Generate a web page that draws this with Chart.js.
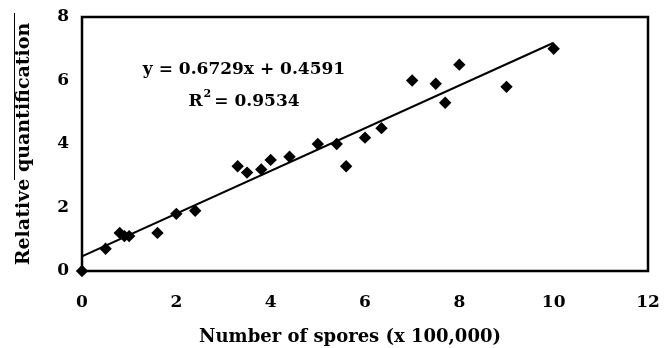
<!DOCTYPE html>
<html>
<head>
<meta charset="utf-8">
<script src="https://cdn.jsdelivr.net/npm/chart.js@4.4.1/dist/chart.umd.min.js"></script>
<style>
  html, body { margin: 0; padding: 0; background: #fff; }
  #wrap { width: 670px; height: 348px; }
</style>
</head>
<body>
<div id="wrap"><canvas id="chart" width="670" height="348"></canvas></div>
<script>
// spores (x 100,000) vs relative quantification
const spores = [0, 0.5, 0.8, 0.9, 1.0, 1.6, 2.0, 2.4, 3.3, 3.5, 3.8, 4.0, 4.4, 5.0, 5.4, 5.6, 6.0, 6.35, 7.0, 7.5, 7.7, 8.0, 9.0, 10.0];
const quant  = [0, 0.7, 1.2, 1.1, 1.1, 1.2, 1.8, 1.9, 3.3, 3.1, 3.2, 3.5, 3.6, 4.0, 4.0, 3.3, 4.2, 4.5, 6.0, 5.9, 5.3, 6.5, 5.8, 7.0];

// linear fit reported on the figure
const slope = 0.6729;
const intercept = 0.4591;
const rSquared = 0.9534;
const fitRange = [0, 10];

const xTicks = [0, 2, 4, 6, 8, 10, 12];
const yTicks = [0, 2, 4, 6, 8];
const xTitle = 'Number of spores (x 100,000)';
const yTitle = 'Relative quantification';

const serif = "'DejaVu Serif', 'Liberation Serif', serif";

const points = spores.map((x, i) => ({x: x, y: quant[i]}));
const fitLine = fitRange.map((x) => ({x: x, y: slope * x + intercept}));

// box around the plot area, x title and the regression labels
const extras = {
    id: 'extras',
    afterDraw(chart) {
        const {ctx, chartArea} = chart;
        ctx.save();
        ctx.strokeStyle = '#000';
        ctx.lineWidth = 2.5;
        ctx.strokeRect(chartArea.left, chartArea.top, chartArea.right - chartArea.left, chartArea.bottom - chartArea.top);

        ctx.fillStyle = '#000';
        ctx.textAlign = 'center';
        ctx.textBaseline = 'middle';
        ctx.font = 'bold 18px ' + serif;
        ctx.fillText(xTitle, 350, 337);

        ctx.font = 'bold 17px ' + serif;
        const cx = 244;
        ctx.fillText('y = ' + slope.toFixed(4) + 'x + ' + intercept.toFixed(4), cx, 70);
        const rText = 'R  = ' + rSquared.toFixed(4);
        ctx.fillText(rText, cx, 102);
        const w = ctx.measureText(rText).width;
        const rw = ctx.measureText('R').width;
        ctx.font = 'bold 11px ' + serif;
        ctx.textAlign = 'left';
        ctx.fillText('2', cx - w / 2 + rw + 1, 94);

        // overline on the y title
        ctx.lineWidth = 1;
        ctx.beginPath();
        ctx.moveTo(14.5, 13);
        ctx.lineTo(14.5, 180);
        ctx.stroke();
        ctx.restore();
    }
};

const chart = new Chart(document.getElementById('chart'), {
    type: 'scatter',
    data: {
        datasets: [
            {
                label: 'samples',
                data: points,
                pointStyle: 'rectRot',
                pointRadius: 6.2,
                backgroundColor: '#000',
                borderColor: '#000',
                borderWidth: 0,
                clip: false,
                order: 1
            },
            {
                label: 'fit',
                type: 'line',
                data: fitLine,
                borderColor: '#000',
                borderWidth: 2,
                pointRadius: 0,
                fill: false,
                order: 2
            }
        ]
    },
    options: {
        responsive: false,
        animation: false,
        layout: {padding: {top: 17, right: 22, left: 0, bottom: 0}},
        plugins: {legend: {display: false}, tooltip: {enabled: false}},
        scales: {
            x: {
                type: 'linear',
                min: 0,
                max: 12,
                afterBuildTicks: (axis) => { axis.ticks = xTicks.map((v) => ({value: v})); },
                afterFit: (axis) => { axis.height = 77; axis.paddingLeft = 0; axis.paddingRight = 0; },
                grid: {display: false, drawOnChartArea: false, drawTicks: true, tickLength: 7, tickColor: '#000', tickWidth: 1.5},
                border: {display: false},
                ticks: {color: '#000', padding: 14, font: {family: serif, size: 17, weight: 'bold'}, maxRotation: 0},
                title: {display: false}
            },
            y: {
                type: 'linear',
                min: 0,
                max: 8,
                afterBuildTicks: (axis) => { axis.ticks = yTicks.map((v) => ({value: v})); },
                afterFit: (axis) => { axis.width = 82; axis.paddingTop = 0; axis.paddingBottom = 0; },
                grid: {display: false, drawOnChartArea: false, drawTicks: true, tickLength: 7, tickColor: '#000', tickWidth: 1.5},
                border: {display: false},
                ticks: {color: '#000', padding: 6, font: {family: serif, size: 17, weight: 'bold'}},
                title: {display: true, text: yTitle, color: '#000', padding: {top: 13, bottom: 4}, font: {family: serif, size: 19, weight: 'bold'}}
            }
        }
    },
    plugins: [extras]
});
</script>
</body>
</html>
